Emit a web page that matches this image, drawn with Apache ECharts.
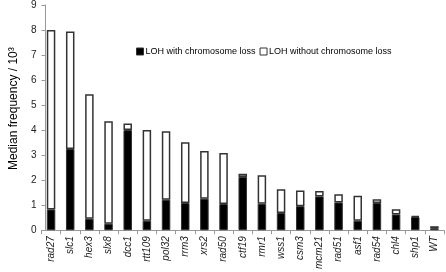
<!DOCTYPE html>
<html>
<head>
<meta charset="utf-8">
<script src="https://cdn.jsdelivr.net/npm/echarts@6/dist/echarts.min.js"></script>
<style>
  html, body { margin: 0; padding: 0; background: #fff; }
  #main { width: 446px; height: 272px; }
</style>
</head>
<body>
<div id="main"></div>
<script>
var strains = ['rad27', 'slc1', 'hex3', 'slx8', 'dcc1', 'rtt109', 'pol32', 'rrm3', 'xrs2', 'rad50', 'ctf19',
               'rmr1', 'wss1', 'csm3', 'mcm21', 'rad51', 'asf1', 'rad54', 'chl4', 'shp1', 'WT'];
// LOH with chromosome loss (x10^3)
var withLoss = [0.83, 3.25, 0.46, 0.26, 4.0, 0.38, 1.22, 1.09, 1.26, 1.05, 2.13,
                1.06, 0.69, 0.96, 1.35, 1.11, 0.38, 1.09, 0.63, 0.53, 0.08];
// LOH without chromosome loss (x10^3)
var withoutLoss = [7.17, 4.69, 4.97, 4.09, 0.26, 3.62, 2.73, 2.43, 1.91, 2.04, 0.13,
                   1.14, 0.95, 0.63, 0.22, 0.33, 1.0, 0.15, 0.21, 0.04, 0.08];
var yTicks = [0, 1, 2, 3, 4, 5, 6, 7, 8, 9];

var FONT = '"Liberation Sans", Arial, sans-serif';

var myChart = echarts.init(document.getElementById('main'));
myChart.setOption({
    animation: false,
    textStyle: { fontFamily: FONT },
    legend: {
        left: 131,
        top: 42,
        width: 310,
        itemWidth: 7,
        itemHeight: 7,
        itemGap: 4,
        icon: 'rect',
        textStyle: { fontFamily: FONT, fontSize: 9, color: '#000', padding: [0, 0, 0, -3] },
        data: [
            { name: 'LOH with chromosome loss', itemStyle: { color: '#000', borderColor: '#333', borderWidth: 1 } },
            { name: 'LOH without chromosome loss', itemStyle: { color: '#fff', borderColor: '#333', borderWidth: 1 } }
        ]
    },
    grid: { left: 27, top: 5, width: 417, height: 228, containLabel: false },
    xAxis: {
        type: 'category',
        data: strains,
        axisLine: { lineStyle: { color: '#999', width: 1 } },
        axisTick: { show: true, length: 4, lineStyle: { color: '#999' } },
        axisLabel: {
            rotate: 90,
            fontStyle: 'italic',
            fontFamily: FONT,
            fontSize: 10,
            color: '#222',
            margin: 6,
            interval: 0
        }
    },
    yAxis: {
        type: 'value',
        min: yTicks[0],
        max: yTicks[yTicks.length - 1],
        interval: 1,
        offset: -4,
        name: 'Median frequency / 10³',
        nameLocation: 'middle',
        nameGap: 24,
        nameTextStyle: { fontFamily: FONT, fontSize: 12, color: '#000', padding: [0, 0, 0, 18] },
        axisLine: { show: true, lineStyle: { color: '#999', width: 1 } },
        axisTick: { show: true, length: 4, lineStyle: { color: '#999' } },
        axisLabel: { fontFamily: FONT, fontSize: 10, color: '#222', margin: 9 },
        splitLine: { show: false }
    },
    series: [
        {
            name: 'LOH with chromosome loss',
            type: 'bar',
            stack: 'total',
            barWidth: 8.5,
            data: withLoss,
            itemStyle: { color: '#000', borderColor: '#333', borderWidth: 1 }
        },
        {
            name: 'LOH without chromosome loss',
            type: 'bar',
            stack: 'total',
            barWidth: 8.5,
            data: withoutLoss,
            itemStyle: { color: '#fff', borderColor: '#333', borderWidth: 1.5 }
        }
    ]
});
</script>
</body>
</html>
